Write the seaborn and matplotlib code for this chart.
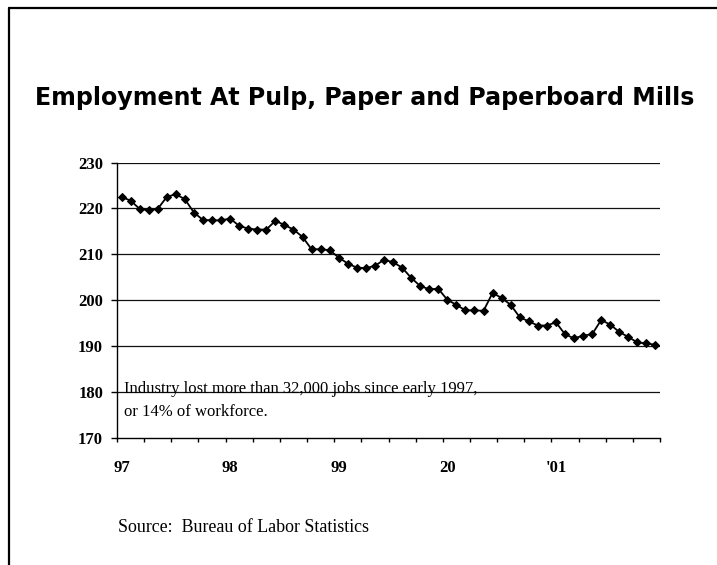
import matplotlib
matplotlib.use("Agg")
import matplotlib.pyplot as plt
import numpy as np
import pandas as pd
import seaborn as sns
from matplotlib.lines import Line2D

# monthly employment, thousands, Jan 1997 - Dec 2001
EMPLOYMENT = [
    222.5, 221.7, 219.9, 219.6, 219.9, 222.5, 223.1, 222.0, 219.1, 217.5, 217.4, 217.4,
    217.8, 216.2, 215.6, 215.4, 215.4, 217.3, 216.4, 215.4, 213.8, 211.1, 211.1, 210.9,
    209.3, 208.0, 207.1, 207.0, 207.5, 208.8, 208.3, 207.1, 204.9, 203.1, 202.4, 202.5,
    200.1, 199.0, 197.8, 197.8, 197.7, 201.6, 200.5, 199.0, 196.3, 195.4, 194.5, 194.5,
    195.2, 192.6, 191.7, 192.3, 192.6, 195.7, 194.7, 193.1, 192.0, 190.8, 190.6, 190.3,
]
YEAR_LABELS = ["97", "98", "99", "20", "'01"]
Y_TICKS = [170, 180, 190, 200, 210, 220, 230]

TITLE = "Employment At Pulp, Paper and Paperboard Mills"
NOTE_LINES = ["Industry lost more than 32,000 jobs since early 1997,", "or 14% of workforce."]
SOURCE = "Source:  Bureau of Labor Statistics"

W, H = 717, 565

sns.set_theme(style="white")
plt.rcParams["font.family"] = ["Liberation Serif", "DejaVu Serif"]
plt.rcParams["text.color"] = "black"
plt.rcParams["xtick.color"] = "black"
plt.rcParams["ytick.color"] = "black"

n = len(EMPLOYMENT)
df = pd.DataFrame({"month": np.arange(n) + 0.5, "jobs": EMPLOYMENT})

fig = plt.figure(figsize=(W / 100, H / 100), dpi=100)
ax = fig.add_axes([117 / W, 1 - 438 / H, (660 - 117) / W, (438 - 162.5) / H])

for v in Y_TICKS[1:]:
    ax.axhline(v, color="#111111", lw=0.9, zorder=1)

sns.lineplot(data=df, x="month", y="jobs", ax=ax, color="black", lw=1.3,
             marker="D", markersize=4.3, markeredgecolor="black", zorder=3)

ax.set_xlim(0, n)
ax.set_ylim(Y_TICKS[0], Y_TICKS[-1])
ax.set_yticks(Y_TICKS)
ax.set_yticklabels([str(v) for v in Y_TICKS], fontweight="bold", fontsize=12)

# quarter tick marks between months, year labels centred on January
ax.set_xticks(np.arange(0, n + 1, 3), minor=True)
ax.set_xticks(np.arange(len(YEAR_LABELS)) * 12 + 0.5)
ax.set_xticklabels(YEAR_LABELS, fontweight="bold", fontsize=12)
ax.set_xlabel("")
ax.set_ylabel("")

for side in ["top", "right"]:
    ax.spines[side].set_visible(False)
for side in ["left", "bottom"]:
    ax.spines[side].set_color("black")
    ax.spines[side].set_linewidth(1.0)
ax.tick_params(axis="y", direction="out", length=4, width=1, color="black", pad=6, left=True)
ax.tick_params(axis="x", which="major", length=0, pad=16, bottom=True)
ax.tick_params(axis="x", which="minor", direction="out", length=3, width=1,
               color="black", bottom=True)
ax.grid(False)

for k, line in enumerate(NOTE_LINES):
    fig.text(124 / W, 1 - (393 + 23 * k) / H, line, fontsize=12, va="baseline", ha="left")

fig.text(118 / W, 1 - 528 / H, SOURCE, fontsize=12.9, va="center", ha="left")

title = fig.text(365 / W, 1 - 98 / H, TITLE, family="DejaVu Sans",
                 fontweight="bold", fontsize=20, va="center", ha="center", color="black")
fig.canvas.draw()
bb = title.get_window_extent()
title.set_fontsize(20 * 660 / bb.width)

fig.add_artist(Line2D([9 / W, 1], [1 - 8 / H, 1 - 8 / H], transform=fig.transFigure,
                      color="black", lw=1.6))
fig.add_artist(Line2D([9 / W, 9 / W], [0, 1 - 8 / H], transform=fig.transFigure,
                      color="black", lw=1.6))

fig.savefig("out.png", dpi=100, facecolor="white")
